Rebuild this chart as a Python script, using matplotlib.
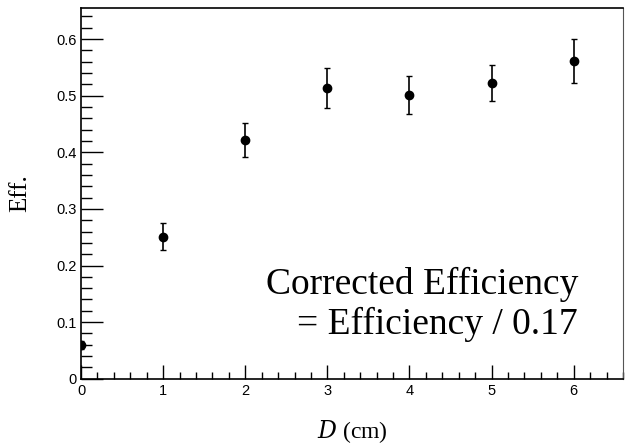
import matplotlib
matplotlib.use('Agg')
import matplotlib.pyplot as plt
from matplotlib.ticker import MultipleLocator

plt.rcParams['mathtext.fontset'] = 'dejavuserif'

distance = [0, 1, 2, 3, 4, 5, 6]
eff = [0.059, 0.251, 0.422, 0.514, 0.501, 0.522, 0.561]
eff_err = [0.007, 0.024, 0.030, 0.035, 0.034, 0.032, 0.039]

fig = plt.figure(figsize=(6.25, 4.45), dpi=100)
ax = fig.add_axes([0.1296, 0.149, 0.8672, 0.833])

ax.errorbar(distance, eff, yerr=eff_err, fmt='o', color='black',
            markersize=6, elinewidth=1.2, capsize=2, capthick=1, clip_on=True)

ax.set_xlim(0, 6.6)
ax.set_ylim(0, 0.655)

ax.xaxis.set_major_locator(MultipleLocator(1))
ax.xaxis.set_minor_locator(MultipleLocator(0.2))
ax.yaxis.set_minor_locator(MultipleLocator(0.02))
ax.set_yticks([0, 0.1, 0.2, 0.3, 0.4, 0.5, 0.6])
ax.set_yticklabels(['0', '0.1', '0.2', '0.3', '0.4', '0.5', '0.6'])

ax.tick_params(axis='both', which='both', direction='in', labelsize=10.5,
               top=False, right=False)
ax.tick_params(axis='y', which='major', length=16, width=1, pad=3)
ax.tick_params(axis='y', which='minor', length=8, width=1)
ax.tick_params(axis='x', which='major', length=10, width=1, pad=4)
ax.tick_params(axis='x', which='minor', length=5, width=1)
for lab in ax.get_xticklabels() + ax.get_yticklabels():
    lab.set_family('Liberation Sans')

for side in ['left', 'bottom', 'top']:
    ax.spines[side].set_linewidth(1.2)
ax.spines['right'].set_color('#555555')

ax.set_ylabel("Eff.", family='Liberation Serif', fontsize=18, labelpad=18)
ax.set_xlabel(r"$D$ (cm)", family='Liberation Serif', fontsize=17,
              labelpad=14)

ax.text(0.917, 0.2, "Corrected Efficiency\n= Efficiency / 0.17",
        transform=ax.transAxes, ha='right', va='center', multialignment='right',
        family='Liberation Serif', fontsize=27, linespacing=1.2)

plt.savefig("out.png", dpi=100)
